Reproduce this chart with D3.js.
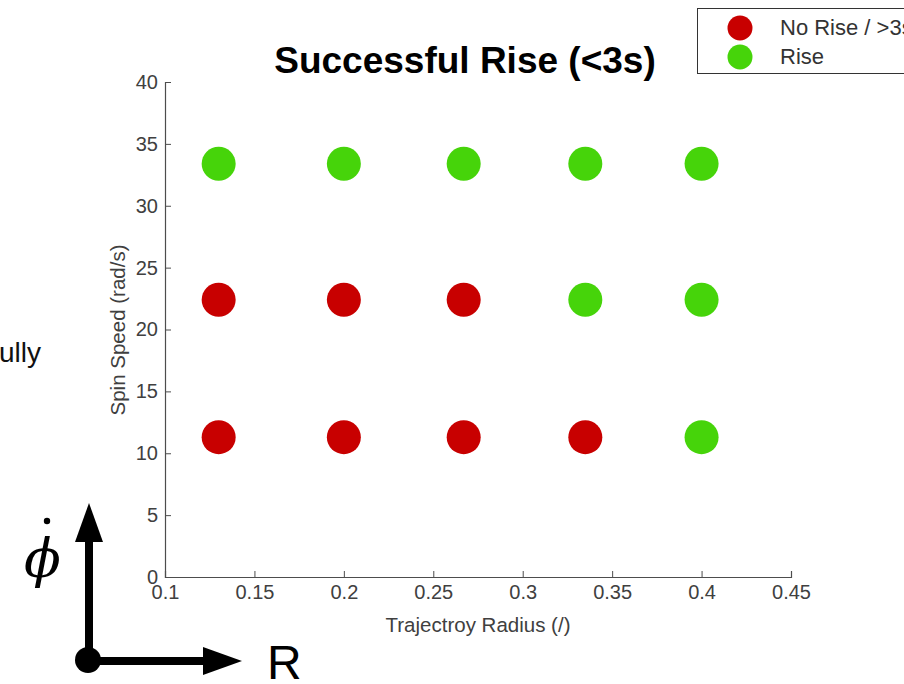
<!DOCTYPE html>
<html>
<head>
<meta charset="utf-8">
<script src="https://cdn.jsdelivr.net/npm/d3@7"></script>
<style>
html,body{margin:0;padding:0;background:#fff;overflow:hidden;}
svg{display:block;font-family:"Liberation Sans",Arial,sans-serif;}
</style>
</head>
<body>
<svg id="chart" width="904" height="684"></svg>
<script>
// ---- data ----
const radius = [0.13, 0.2, 0.267, 0.335, 0.4];
const spinSpeed = [11.3, 22.4, 33.4];
// outcome per spin-speed row (index matches spinSpeed), per radius column
const outcome = [
  ["No Rise / >3s", "No Rise / >3s", "No Rise / >3s", "No Rise / >3s", "Rise"],
  ["No Rise / >3s", "No Rise / >3s", "No Rise / >3s", "Rise", "Rise"],
  ["Rise", "Rise", "Rise", "Rise", "Rise"]
];
const categories = ["No Rise / >3s", "Rise"];
const colors = ["#c80000", "#46d40a"];
const xTicks = [0.1, 0.15, 0.2, 0.25, 0.3, 0.35, 0.4, 0.45];
const yTicks = [0, 5, 10, 15, 20, 25, 30, 35, 40];

const points = [];
spinSpeed.forEach((s, i) => radius.forEach((r, j) => points.push({r, s, c: outcome[i][j]})));

const svg = d3.select("#chart");
const x = d3.scaleLinear().domain([0.1, 0.45]).range([165, 791]);
const y = d3.scaleLinear().domain([0, 40]).range([577, 82]);
const color = d3.scaleOrdinal().domain(categories).range(colors);

// axes
const xAxis = svg.append("g").attr("transform", `translate(0,${y(0)})`)
  .call(d3.axisBottom(x).tickValues(xTicks).tickFormat(d => String(d)).tickSizeInner(-6).tickSizeOuter(-6).tickPadding(11));
const yAxis = svg.append("g").attr("transform", `translate(${x(0.1)},0)`)
  .call(d3.axisLeft(y).tickValues(yTicks).tickFormat(d => String(d)).tickSizeInner(-6).tickSizeOuter(-6).tickPadding(7));
[xAxis, yAxis].forEach(g => {
  g.select(".domain").attr("stroke", "#4d4d4d").attr("stroke-width", 1.2);
  g.selectAll(".tick line").attr("stroke", "#4d4d4d").attr("stroke-width", 1);
  g.selectAll(".tick text").attr("fill", "#404040").style("font-size", "20px").style("font-family", "Liberation Sans, Arial, sans-serif");
});
xAxis.selectAll(".tick text").attr("dy", "0.55em");

// axis labels
svg.append("text").attr("x", 478).attr("y", 632).attr("text-anchor", "middle")
  .attr("fill", "#404040").style("font-size", "20.5px").text("Trajectroy Radius (/)");
svg.append("text").attr("transform", "translate(125,330) rotate(-90)").attr("text-anchor", "middle")
  .attr("fill", "#404040").style("font-size", "20.5px").text("Spin Speed (rad/s)");

// title
svg.append("text").attr("x", 465).attr("y", 73).attr("text-anchor", "middle")
  .style("font-size", "37px").style("font-weight", "bold").attr("fill", "#000").text("Successful Rise (<3s)");

// points
svg.append("g").selectAll("circle").data(points).join("circle")
  .attr("cx", d => x(d.r)).attr("cy", d => y(d.s)).attr("r", 17)
  .attr("fill", d => color(d.c));

// legend
const lg = svg.append("g");
lg.append("rect").attr("x", 697.5).attr("y", 8.5).attr("width", 230).attr("height", 65)
  .attr("fill", "#fff").attr("stroke", "#333").attr("stroke-width", 1);
categories.forEach((c, i) => {
  lg.append("circle").attr("cx", 740).attr("cy", 28 + i * 29).attr("r", 12.5).attr("fill", color(c));
  lg.append("text").attr("x", 780).attr("y", 35 + i * 29).style("font-size", "22px").attr("fill", "#333").text(c);
});

// slide remnants: partial word and axis diagram
svg.append("text").attr("x", -1).attr("y", 362).style("font-size", "28px").attr("fill", "#111").text("ully");

const dg = svg.append("g");
dg.append("line").attr("x1", 89).attr("y1", 660).attr("x2", 89).attr("y2", 538).attr("stroke", "#000").attr("stroke-width", 8);
dg.append("path").attr("d", "M89,503 L75,542 L103,542 Z").attr("fill", "#000");
dg.append("line").attr("x1", 89).attr("y1", 661).attr("x2", 208).attr("y2", 661).attr("stroke", "#000").attr("stroke-width", 8);
dg.append("path").attr("d", "M242,661 L203,647 L203,675 Z").attr("fill", "#000");
dg.append("circle").attr("cx", 88).attr("cy", 660).attr("r", 13).attr("fill", "#000");
dg.append("text").attr("x", 24).attr("y", 577).style("font-family", "DejaVu Serif, serif").style("font-style", "italic")
  .style("font-size", "54px").attr("fill", "#000").text("\u03D5");
dg.append("circle").attr("cx", 47).attr("cy", 521).attr("r", 3.2).attr("fill", "#000");
dg.append("text").attr("x", 267).attr("y", 679).style("font-size", "48px").attr("fill", "#000").text("R");
</script>
</body>
</html>
